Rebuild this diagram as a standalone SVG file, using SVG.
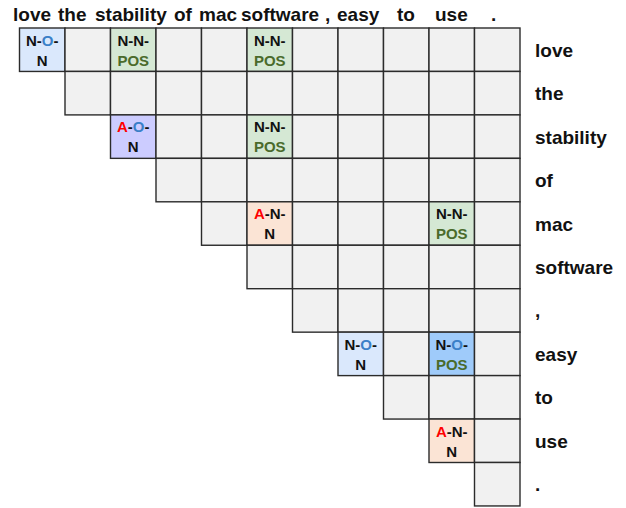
<svg xmlns="http://www.w3.org/2000/svg" width="626" height="508" viewBox="0 0 626 508">
<style>
.c{fill:#f1f1f1;stroke:#2b2b2b;stroke-width:1.4}
.nb{fill:#dae8fc}
.ng{fill:#d5e8d4}
.nl{fill:#ccccff}
.np{fill:#fbe4d5}
.ns{fill:#9fcbfa}
.w{font-family:"Liberation Sans",Arial,sans-serif;font-weight:bold;font-size:19px;fill:#111}
.t{font-family:"Liberation Sans",Arial,sans-serif;font-weight:bold;font-size:15px;fill:#111;text-anchor:middle}
.o{fill:#3a80c8}
.a{fill:#ff0000}
.p{fill:#4a6b2b}
</style>
<rect width="626" height="508" fill="#ffffff"/>
<g id="header">
<text class="w" x="13" y="21">love</text>
<text class="w" x="58" y="21">the</text>
<text class="w" x="95" y="21">stability</text>
<text class="w" x="174" y="21">of</text>
<text class="w" x="199" y="21">mac</text>
<text class="w" x="241" y="21">software</text>
<text class="w" x="325" y="21">,</text>
<text class="w" x="337" y="21">easy</text>
<text class="w" x="397" y="21">to</text>
<text class="w" x="435" y="21">use</text>
<text class="w" x="491" y="21">.</text>
</g>
<g id="row-labels">
<text class="w" x="535" y="56.5">love</text>
<text class="w" x="535" y="100">the</text>
<text class="w" x="535" y="143.5">stability</text>
<text class="w" x="535" y="187">of</text>
<text class="w" x="535" y="230.5">mac</text>
<text class="w" x="535" y="274">software</text>
<text class="w" x="535" y="317">,</text>
<text class="w" x="535" y="360.5">easy</text>
<text class="w" x="535" y="404">to</text>
<text class="w" x="535" y="447.5">use</text>
<text class="w" x="535" y="491">.</text>
</g>
<g id="grid">
<g id="row0">
<rect class="c nb" x="19.5" y="28" width="45.5" height="43.45"/>
<rect class="c" x="65" y="28" width="45.5" height="43.45"/>
<rect class="c ng" x="110.5" y="28" width="45.5" height="43.45"/>
<rect class="c" x="156" y="28" width="45.5" height="43.45"/>
<rect class="c" x="201.5" y="28" width="45.5" height="43.45"/>
<rect class="c ng" x="247" y="28" width="45.5" height="43.45"/>
<rect class="c" x="292.5" y="28" width="45.5" height="43.45"/>
<rect class="c" x="338" y="28" width="45.5" height="43.45"/>
<rect class="c" x="383.5" y="28" width="45.5" height="43.45"/>
<rect class="c" x="429" y="28" width="45.5" height="43.45"/>
<rect class="c" x="474.5" y="28" width="45.5" height="43.45"/>
</g>
<g id="row1">
<rect class="c" x="65" y="71.45" width="45.5" height="43.45"/>
<rect class="c" x="110.5" y="71.45" width="45.5" height="43.45"/>
<rect class="c" x="156" y="71.45" width="45.5" height="43.45"/>
<rect class="c" x="201.5" y="71.45" width="45.5" height="43.45"/>
<rect class="c" x="247" y="71.45" width="45.5" height="43.45"/>
<rect class="c" x="292.5" y="71.45" width="45.5" height="43.45"/>
<rect class="c" x="338" y="71.45" width="45.5" height="43.45"/>
<rect class="c" x="383.5" y="71.45" width="45.5" height="43.45"/>
<rect class="c" x="429" y="71.45" width="45.5" height="43.45"/>
<rect class="c" x="474.5" y="71.45" width="45.5" height="43.45"/>
</g>
<g id="row2">
<rect class="c nl" x="110.5" y="114.9" width="45.5" height="43.45"/>
<rect class="c" x="156" y="114.9" width="45.5" height="43.45"/>
<rect class="c" x="201.5" y="114.9" width="45.5" height="43.45"/>
<rect class="c ng" x="247" y="114.9" width="45.5" height="43.45"/>
<rect class="c" x="292.5" y="114.9" width="45.5" height="43.45"/>
<rect class="c" x="338" y="114.9" width="45.5" height="43.45"/>
<rect class="c" x="383.5" y="114.9" width="45.5" height="43.45"/>
<rect class="c" x="429" y="114.9" width="45.5" height="43.45"/>
<rect class="c" x="474.5" y="114.9" width="45.5" height="43.45"/>
</g>
<g id="row3">
<rect class="c" x="156" y="158.35" width="45.5" height="43.45"/>
<rect class="c" x="201.5" y="158.35" width="45.5" height="43.45"/>
<rect class="c" x="247" y="158.35" width="45.5" height="43.45"/>
<rect class="c" x="292.5" y="158.35" width="45.5" height="43.45"/>
<rect class="c" x="338" y="158.35" width="45.5" height="43.45"/>
<rect class="c" x="383.5" y="158.35" width="45.5" height="43.45"/>
<rect class="c" x="429" y="158.35" width="45.5" height="43.45"/>
<rect class="c" x="474.5" y="158.35" width="45.5" height="43.45"/>
</g>
<g id="row4">
<rect class="c" x="201.5" y="201.8" width="45.5" height="43.45"/>
<rect class="c np" x="247" y="201.8" width="45.5" height="43.45"/>
<rect class="c" x="292.5" y="201.8" width="45.5" height="43.45"/>
<rect class="c" x="338" y="201.8" width="45.5" height="43.45"/>
<rect class="c" x="383.5" y="201.8" width="45.5" height="43.45"/>
<rect class="c ng" x="429" y="201.8" width="45.5" height="43.45"/>
<rect class="c" x="474.5" y="201.8" width="45.5" height="43.45"/>
</g>
<g id="row5">
<rect class="c" x="247" y="245.25" width="45.5" height="43.45"/>
<rect class="c" x="292.5" y="245.25" width="45.5" height="43.45"/>
<rect class="c" x="338" y="245.25" width="45.5" height="43.45"/>
<rect class="c" x="383.5" y="245.25" width="45.5" height="43.45"/>
<rect class="c" x="429" y="245.25" width="45.5" height="43.45"/>
<rect class="c" x="474.5" y="245.25" width="45.5" height="43.45"/>
</g>
<g id="row6">
<rect class="c" x="292.5" y="288.7" width="45.5" height="43.45"/>
<rect class="c" x="338" y="288.7" width="45.5" height="43.45"/>
<rect class="c" x="383.5" y="288.7" width="45.5" height="43.45"/>
<rect class="c" x="429" y="288.7" width="45.5" height="43.45"/>
<rect class="c" x="474.5" y="288.7" width="45.5" height="43.45"/>
</g>
<g id="row7">
<rect class="c nb" x="338" y="332.15" width="45.5" height="43.45"/>
<rect class="c" x="383.5" y="332.15" width="45.5" height="43.45"/>
<rect class="c ns" x="429" y="332.15" width="45.5" height="43.45"/>
<rect class="c" x="474.5" y="332.15" width="45.5" height="43.45"/>
</g>
<g id="row8">
<rect class="c" x="383.5" y="375.6" width="45.5" height="43.45"/>
<rect class="c" x="429" y="375.6" width="45.5" height="43.45"/>
<rect class="c" x="474.5" y="375.6" width="45.5" height="43.45"/>
</g>
<g id="row9">
<rect class="c np" x="429" y="419.05" width="45.5" height="43.45"/>
<rect class="c" x="474.5" y="419.05" width="45.5" height="43.45"/>
</g>
<g id="row10">
<rect class="c" x="474.5" y="462.5" width="45.5" height="43.45"/>
</g>
</g>
<g id="labels">
<g id="l-0-0"><text class="t" x="42.25" y="45.5">N-<tspan class="o">O</tspan>-</text><text class="t" x="42.25" y="65.5">N</text></g>
<g id="l-0-2"><text class="t" x="133.25" y="45.5">N-N-</text><text class="t p" x="133.25" y="65.5">POS</text></g>
<g id="l-0-5"><text class="t" x="269.75" y="45.5">N-N-</text><text class="t p" x="269.75" y="65.5">POS</text></g>
<g id="l-2-2"><text class="t" x="133.25" y="132.4"><tspan class="a">A</tspan>-<tspan class="o">O</tspan>-</text><text class="t" x="133.25" y="152.4">N</text></g>
<g id="l-2-5"><text class="t" x="269.75" y="132.4">N-N-</text><text class="t p" x="269.75" y="152.4">POS</text></g>
<g id="l-4-5"><text class="t" x="269.75" y="219.3"><tspan class="a">A</tspan>-N-</text><text class="t" x="269.75" y="239.3">N</text></g>
<g id="l-4-9"><text class="t" x="451.75" y="219.3">N-N-</text><text class="t p" x="451.75" y="239.3">POS</text></g>
<g id="l-7-7"><text class="t" x="360.75" y="349.65">N-<tspan class="o">O</tspan>-</text><text class="t" x="360.75" y="369.65">N</text></g>
<g id="l-7-9"><text class="t" x="451.75" y="349.65">N-<tspan class="o">O</tspan>-</text><text class="t p" x="451.75" y="369.65">POS</text></g>
<g id="l-9-9"><text class="t" x="451.75" y="436.55"><tspan class="a">A</tspan>-N-</text><text class="t" x="451.75" y="456.55">N</text></g>
</g>
</svg>
